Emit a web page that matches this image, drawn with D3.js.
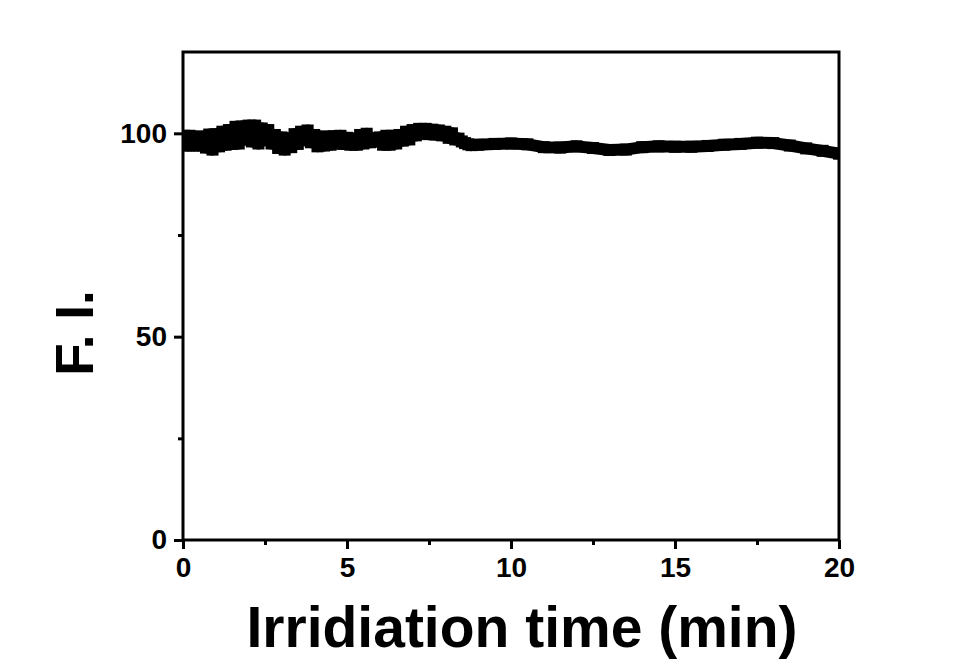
<!DOCTYPE html>
<html>
<head>
<meta charset="utf-8">
<script src="https://cdn.jsdelivr.net/npm/d3@7"></script>
<style>
  html, body { margin: 0; padding: 0; background: #fff; }
  svg { display: block; font-family: "Liberation Sans", Arial, sans-serif; }
</style>
</head>
<body>
<svg id="chart" width="962" height="667"></svg>
<script>
// ---- data ----
const times = [
  0.0, 0.1, 0.2, 0.3, 0.4, 0.5, 0.6, 0.7, 0.8, 0.9,
  1.0, 1.1, 1.2, 1.3, 1.4, 1.5, 1.6, 1.7, 1.8, 1.9,
  2.0, 2.1, 2.2, 2.3, 2.4, 2.5, 2.6, 2.7, 2.8, 2.9,
  3.0, 3.1, 3.2, 3.3, 3.4, 3.5, 3.6, 3.7, 3.8, 3.9,
  4.0, 4.1, 4.2, 4.3, 4.4, 4.5, 4.6, 4.7, 4.8, 4.9,
  5.0, 5.1, 5.2, 5.3, 5.4, 5.5, 5.6, 5.7, 5.8, 5.9,
  6.0, 6.1, 6.2, 6.3, 6.4, 6.5, 6.6, 6.7, 6.8, 6.9,
  7.0, 7.1, 7.2, 7.3, 7.4, 7.5, 7.6, 7.7, 7.8, 7.9,
  8.0, 8.1, 8.2, 8.3, 8.4, 8.5, 8.6, 8.7, 8.8,
  9.0, 9.5, 10.0, 10.5, 11.0, 11.5, 12.0, 12.5, 13.0, 13.5, 14.0, 14.5, 15.0,
  15.5, 16.0, 16.5, 17.0, 17.5, 18.0, 18.5, 19.0, 19.5, 20.0];
const intensity = [
  99.4, 97.0, 99.4, 97.0, 99.2, 97.0, 99.2, 96.5, 99.7, 96.0,
  99.8, 96.8, 100.4, 97.2, 100.8, 97.4, 101.6, 97.5, 101.7, 98.5,
  101.9, 98.0, 101.9, 97.5, 101.2, 98.3, 100.8, 97.5, 99.6, 96.4,
  99.0, 96.0, 98.8, 96.6, 99.8, 97.4, 100.4, 98.3, 100.7, 97.8,
  99.6, 96.8, 99.2, 97.0, 99.2, 97.2, 99.3, 97.5, 99.4, 97.4,
  98.9, 97.2, 98.7, 97.2, 99.6, 97.5, 99.9, 97.8, 98.8, 98.0,
  99.0, 97.2, 99.4, 97.2, 99.4, 97.5, 99.6, 98.2, 100.4, 98.5,
  100.8, 99.5, 101.1, 99.9, 101.1, 99.8, 100.9, 99.7, 100.7, 99.5,
  100.4, 98.9, 100.0, 98.5, 98.7, 98.0, 97.6, 97.3, 97.1,
  97.2, 97.4, 97.5, 97.3, 96.6, 96.5, 96.8, 96.4, 95.9, 96.0, 96.6, 96.8, 96.7,
  96.7, 96.9, 97.2, 97.4, 97.7, 97.6, 97.0, 96.3, 95.7, 95.0];
const xMajorTicks = [0, 5, 10, 15, 20];
const xMinorTicks = [2.5, 7.5, 12.5, 17.5];
const yMajorTicks = [0, 50, 100];
const yMinorTicks = [25, 75];
const xTitle = "Irridiation time (min)";
const yTitle = "F. I.";

// ---- layout ----
const pL = 183, pR = 839, pT = 52, pB = 540;
const svg = d3.select("#chart");
svg.append("rect").attr("width", 962).attr("height", 667).attr("fill", "#fff");

const x = d3.scaleLinear().domain([0, 20]).range([pL, pR]);
const y = d3.scaleLinear().domain([0, 120]).range([pB, pT]);

svg.append("defs").append("clipPath").attr("id", "clip")
  .append("rect").attr("x", pL).attr("y", pT).attr("width", pR - pL).attr("height", pB - pT);

const data = times.map((t, i) => ({ t, v: intensity[i] }));
const plot = svg.append("g").attr("clip-path", "url(#clip)");
plot.append("path")
  .datum(data)
  .attr("fill", "none")
  .attr("stroke", "#000")
  .attr("stroke-width", 12)
  .attr("stroke-linejoin", "round")
  .attr("d", d3.line().x(d => x(d.t)).y(d => y(d.v)));

const ms = 12;
plot.selectAll("rect.pt")
  .data(data)
  .join("rect")
  .attr("class", "pt")
  .attr("x", d => x(d.t) - ms / 2)
  .attr("y", d => y(d.v) - ms / 2)
  .attr("width", ms)
  .attr("height", ms)
  .attr("fill", "#000");

const axisW = 3;
const gx = svg.append("g").attr("transform", `translate(0,${pB})`)
  .call(d3.axisBottom(x).tickValues(xMajorTicks).tickSize(9).tickPadding(8).tickFormat(d3.format("d")));
const gxm = svg.append("g").attr("transform", `translate(0,${pB})`)
  .call(d3.axisBottom(x).tickValues(xMinorTicks).tickSize(5).tickFormat(""));
const gy = svg.append("g").attr("transform", `translate(${pL},0)`)
  .call(d3.axisLeft(y).tickValues(yMajorTicks).tickSize(9).tickPadding(7).tickFormat(d3.format("d")));
const gym = svg.append("g").attr("transform", `translate(${pL},0)`)
  .call(d3.axisLeft(y).tickValues(yMinorTicks).tickSize(5).tickFormat(""));

[gx, gxm, gy, gym].forEach(g => {
  g.select(".domain").remove();
  g.selectAll(".tick line").attr("stroke", "#000").attr("stroke-width", axisW);
  g.selectAll(".tick text")
    .attr("fill", "#000")
    .attr("font-family", "'Liberation Sans', Arial, sans-serif")
    .attr("font-weight", "bold")
    .attr("font-size", 28);
});

svg.append("rect")
  .attr("x", pL).attr("y", pT)
  .attr("width", pR - pL).attr("height", pB - pT)
  .attr("fill", "none").attr("stroke", "#000").attr("stroke-width", axisW);

svg.append("text")
  .attr("x", 522).attr("y", 647)
  .attr("text-anchor", "middle")
  .attr("font-weight", "bold")
  .attr("font-size", 57)
  .attr("fill", "#000")
  .text(xTitle);

svg.append("text")
  .attr("transform", `translate(93,${(pT + pB) / 2 + 37}) rotate(-90)`)
  .attr("text-anchor", "middle")
  .attr("font-weight", "bold")
  .attr("font-size", 53)
  .attr("fill", "#000")
  .text(yTitle);
</script>
</body>
</html>
